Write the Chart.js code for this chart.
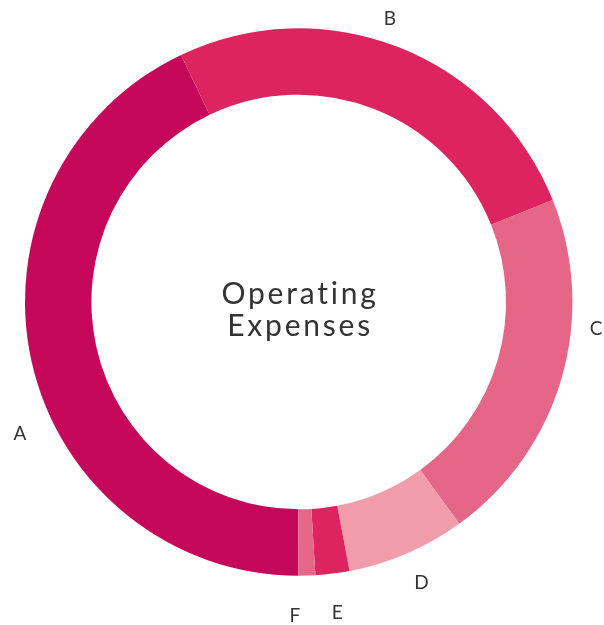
<!DOCTYPE html>
<html>
<head>
<meta charset="utf-8">
<script src="https://cdn.jsdelivr.net/npm/chart.js@4/dist/chart.umd.min.js"></script>
<style>
  html, body { margin: 0; padding: 0; background: #ffffff; }
  #wrap { width: 604px; height: 625px; }
</style>
</head>
<body>
<div id="wrap"><canvas id="c" width="604" height="625"></canvas></div>
<script>
const categories = ["A", "B", "C", "D", "E", "F"];
const values = [42.9, 26.0, 21.1, 7.0, 2.0, 1.0];
const colors = ["#C5085A", "#DD2460", "#E56686", "#F09CAB", "#DD2460", "#E56686"];
const centerLines = ["Operating", "Expenses"];

const TEXT_COLOR = "#333333";
const FONT_FAMILY = "Lato, 'Open Sans', 'DejaVu Sans', sans-serif";

const outsideLabels = {
  id: "outsideLabels",
  afterDatasetsDraw(chart, args, opts) {
    const ctx = chart.ctx;
    const meta = chart.getDatasetMeta(0);
    ctx.save();
    ctx.fillStyle = TEXT_COLOR;
    ctx.font = "400 19px " + FONT_FAMILY;
    ctx.textAlign = "center";
    ctx.textBaseline = "alphabetic";
    const capH = 19 * 0.72;
    meta.data.forEach((arc, i) => {
      const p = arc.getProps(["x", "y", "startAngle", "endAngle", "outerRadius"], true);
      const a = p.startAngle + opts.fractions[i] * (p.endAngle - p.startAngle);
      const r = p.outerRadius + opts.offsets[i];
      const x = p.x + Math.cos(a) * r;
      const y = p.y + Math.sin(a) * r;
      ctx.fillText(categories[i], x, y + capH / 2);
    });
    ctx.restore();
  }
};

const centerText = {
  id: "centerText",
  afterDraw(chart) {
    const ctx = chart.ctx;
    const meta = chart.getDatasetMeta(0);
    const arc = meta.data[0];
    const cx = arc.x, cy = arc.y;
    const ls = 2.8;
    ctx.save();
    ctx.fillStyle = TEXT_COLOR;
    ctx.font = "400 30px " + FONT_FAMILY;
    if ("letterSpacing" in ctx) ctx.letterSpacing = ls + "px";
    ctx.textAlign = "center";
    ctx.textBaseline = "alphabetic";
    ctx.fillText(centerLines[0], cx + ls / 2, cy + 2);
    ctx.fillText(centerLines[1], cx + ls / 2, cy + 34);
    ctx.restore();
  }
};

new Chart(document.getElementById("c"), {
  type: "doughnut",
  data: {
    labels: categories,
    datasets: [{
      data: values,
      backgroundColor: colors,
      borderWidth: 0,
      hoverOffset: 0
    }]
  },
  options: {
    responsive: false,
    animation: false,
    rotation: 180.1,
    radius: 273.7,
    cutout: 207.3,
    layout: { padding: { left: 25, right: 31.6, top: 28.3, bottom: 49.3 } },
    plugins: {
      legend: { display: false },
      tooltip: { enabled: false },
      outsideLabels: {
        fractions: [0.419, 0.462, 0.353, 0.484, 0.5, 1.17],
        offsets: [34.3, 24.6, 24.7, 31.8, 38.7, 39.3]
      }
    }
  },
  plugins: [outsideLabels, centerText]
});
</script>
</body>
</html>
